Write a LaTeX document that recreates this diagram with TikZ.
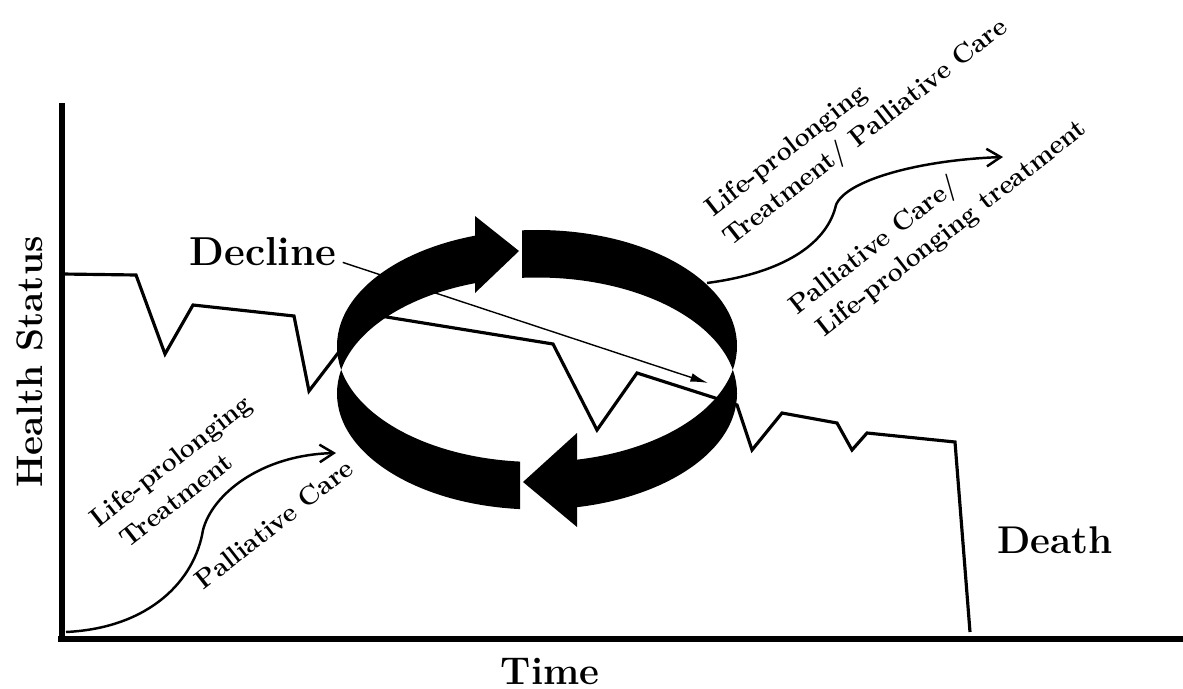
\documentclass[tikz,border=0pt]{standalone}
\usetikzlibrary{arrows.meta}
\begin{document}
\begin{tikzpicture}[x=0.02cm, y=-0.02cm,
    big/.style={font=\fontsize{22}{26}\selectfont\bfseries},
    lbl/.style={font=\fontsize{15}{19.5}\selectfont\bfseries, rotate=38, inner sep=0pt},
    curve/.style={line width=1.4pt, -{Straight Barb[length=8pt,width=10pt,line width=1.4pt]}}]
    \useasboundingbox (0,0) rectangle (1183,689);
    % axes
    \draw[line width=3.5pt] (62,103) -- (62,642);
    \draw[line width=3.5pt] (58,639) -- (1183,639);
    \node[big, rotate=90, font=\fontsize{21}{25}\selectfont\bfseries] (health) at (30,362) {Health Status};
    \node[big] (time) at (550,671) {Time};
    \node[big] (death) at (1055,540) {Death};
    \node[big, font=\fontsize{23}{27}\selectfont\bfseries] (decline) at (263,252) {Decline};
    % health line
    \draw[line width=1.8pt] (62,274) -- (136,275) -- (165,354) -- (193,305) -- (294,316) -- (309,391)
        -- (368,314) -- (553,344) -- (597,430) -- (637,373) -- (737,405) -- (752,450) -- (782,413)
        -- (837,423) -- (852,450) -- (867,433) -- (955,442) -- (970,632);
    % cycle
    \begin{scope}
        \clip (300,150) -- (475,150) -- (475,370) -- (520,370) -- (520,560) -- (300,560) -- cycle
              (522,150) -- (800,150) -- (800,560) -- (577,560) -- (577,370) -- (522,370) -- cycle;
        \fill[even odd rule] (537,346) ellipse [x radius=200, y radius=116]
                             (537,393.5) ellipse [x radius=200, y radius=116];
    \end{scope}
    \fill (475,216) -- (519,251) -- (475,293) -- cycle;
    \fill (577,433) -- (523,482) -- (577,527) -- cycle;
    \coordinate (declineend) at (708,383);
    \draw[line width=0.8pt, -{Latex[length=10pt,width=5pt]}] ([yshift=2pt]decline.base east) -- (declineend);
    % care curves
    \coordinate (origin) at (66,632);
    \coordinate (pcend) at (336,453);
    \draw[curve] (origin) .. controls (150,628) and (195,580) .. (203,530)
        .. controls (212,495) and (260,455) .. (pcend);
    \coordinate (ringout) at (707,283);
    \coordinate (lpend) at (1003,157);
    \draw[curve] (ringout) .. controls (790,272) and (828,240) .. (836,205)
        .. controls (846,180) and (920,160) .. (lpend);
    \node[lbl, align=left] (lpt) at (181,474) {Life-prolonging\\\hspace*{0.4em}Treatment};
    \node[lbl] (pc) at (274,524) {Palliative Care};
    \node[lbl, align=left] (lptpc) at (856,120) {\hspace*{0.15em}Life-prolonging\\Treatment/ Palliative Care};
    \node[lbl, align=left] (pclpt) at (938,218) {Palliative Care/\\\hspace*{0.3em}Life-prolonging treatment};
\end{tikzpicture}
\end{document}
